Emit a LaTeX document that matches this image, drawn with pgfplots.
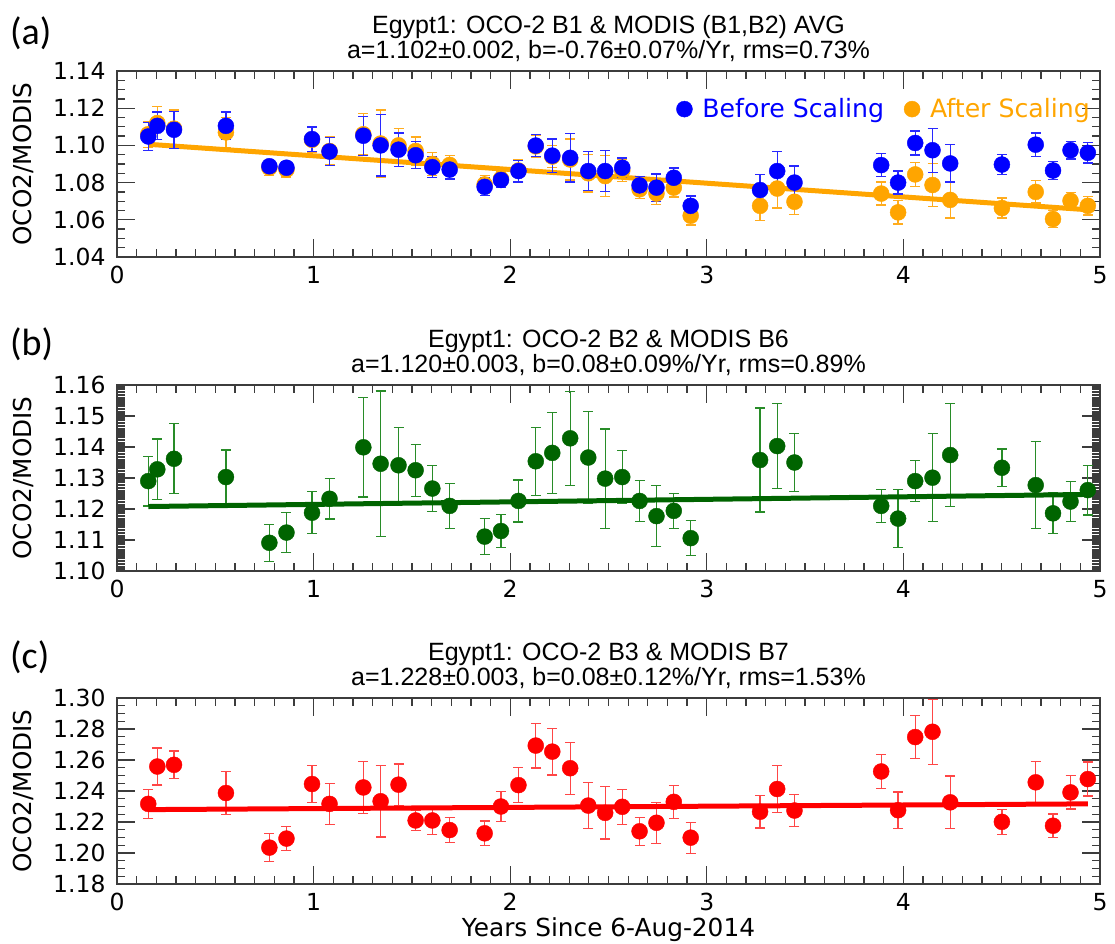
\documentclass[border=0pt]{standalone}
\usepackage{fontspec}
\setmainfont{DejaVu Sans}
\newfontfamily\titlefont{Liberation Sans}
\newfontfamily\panelfont{Carlito}
\usepackage{pgfplots}
\pgfplotsset{compat=1.18}

\definecolor{myblue}{RGB}{0,0,255}
\definecolor{myblueerr}{RGB}{40,40,255}
\definecolor{myorange}{RGB}{255,165,0}
\definecolor{myorangeerr}{RGB}{255,172,30}
\definecolor{mygreen}{RGB}{0,100,0}
\definecolor{mygreenerr}{RGB}{40,140,40}
\definecolor{myred}{RGB}{255,0,0}
\definecolor{myrederr}{RGB}{255,70,70}
\definecolor{axgray}{RGB}{60,60,60}

\pgfplotsset{
  panel/.style={
    scale only axis, width=983pt, height=186pt,
    xmin=0, xmax=5, xtick={0,1,2,3,4,5}, minor x tick num=9,
    tick align=inside, tick pos=both, xticklabel pos=lower, yticklabel pos=left,
    major tick length=18pt, minor tick length=8pt,
    axis line style={axgray, line width=1.3pt},
    every tick/.style={axgray, line width=1.3pt},
    tick label style={font=\fontsize{23.5}{26}\selectfont},
    /pgf/number format/assume math mode=true,
    yticklabel style={/pgf/number format/fixed, /pgf/number format/fixed zerofill, /pgf/number format/precision=2, xshift=-8pt},
    xticklabel style={yshift=-6pt},
    every axis y label/.style={at={(axis description cs:-0.0956,0.5)}, rotate=90, anchor=center, font=\fontsize{24.7}{28}\selectfont},
    every axis x label/.style={at={(axis description cs:0.5,0)}, anchor=center, yshift=-46pt, font=\fontsize{24.8}{28}\selectfont},
    title style={font=\titlefont\fontsize{25}{25}\selectfont, align=center, at={(0.5,1)}, anchor=south, yshift=0pt},
    ylabel={OCO2/MODIS},
  },
  errpts/.style 2 args={only marks, mark=*, mark size=8pt, color=#1,
    mark options={fill=#1, draw=#1},
    error bars/.cd, y dir=both, y explicit,
    error bar style={color=#2, line width=1.3pt},
    error mark options={color=#2, mark size=5pt, line width=1.3pt, rotate=90}},
  fitline/.style={no marks, line width=5pt, color=#1},
}

\begin{document}
\begin{tikzpicture}
\path[use as bounding box] (0,0) rectangle (1115pt,943pt);

% ---------------- panel (a)
\begin{axis}[panel, at={(117pt,686pt)}, anchor=south west,
  ymin=1.04, ymax=1.14, ytick={1.04,1.06,1.08,1.10,1.12,1.14}, minor y tick num=3,
  title={Egypt1: OCO-2 B1 \& MODIS (B1,B2) AVG\\a=1.102±0.002, b=-0.76±0.07\%/Yr, rms=0.73\%},
  reverse legend,
  legend style={at={(axis cs:4.975,1.1195)}, anchor=east, draw=none, fill=none,
    legend columns=2, font=\fontsize{25.2}{28}\selectfont,
    /tikz/every even column/.append style={column sep=18pt}},
  legend cell align=left]
\addplot+[errpts={myorange}{myorangeerr}] table[x=x, y=y, y error=e] {
x y e
0.159 1.1060 0.0070
0.205 1.1120 0.0090
0.290 1.1090 0.0100
0.554 1.1070 0.0080
0.775 1.0880 0.0040
0.862 1.0870 0.0040
0.992 1.1030 0.0065
1.081 1.0970 0.0075
1.253 1.1060 0.0110
1.341 1.1010 0.0180
1.432 1.1000 0.0090
1.519 1.0970 0.0075
1.604 1.0900 0.0060
1.692 1.0895 0.0050
1.870 1.0790 0.0050
1.953 1.0820 0.0040
2.042 1.0865 0.0060
2.130 1.0995 0.0060
2.214 1.0940 0.0060
2.305 1.0924 0.0110
2.397 1.0850 0.0100
2.483 1.0835 0.0110
2.570 1.0865 0.0060
2.658 1.0764 0.0050
2.744 1.0741 0.0060
2.832 1.0773 0.0050
2.918 1.0622 0.0050
3.271 1.0675 0.0080
3.358 1.0768 0.0105
3.446 1.0697 0.0067
3.887 1.0741 0.0062
3.973 1.0640 0.0062
4.060 1.0844 0.0065
4.148 1.0787 0.0114
4.238 1.0707 0.0098
4.501 1.0663 0.0054
4.673 1.0750 0.0060
4.761 1.0604 0.0047
4.850 1.0702 0.0046
4.938 1.0675 0.0050
};
\addlegendentry{\hspace{8pt}\textcolor{myorange}{After Scaling}}
\addplot[fitline=myorange, forget plot] coordinates {(0.159,1.1006) (4.938,1.0654)};
\addplot+[errpts={myblue}{myblueerr}] table[x=x, y=y, y error=e] {
x y e
0.159 1.1048 0.0075
0.205 1.1105 0.0075
0.290 1.1084 0.0100
0.554 1.1105 0.0075
0.775 1.0888 0.0030
0.862 1.0880 0.0030
0.992 1.1034 0.0065
1.081 1.0967 0.0075
1.253 1.1052 0.0105
1.341 1.1000 0.0165
1.432 1.0977 0.0090
1.519 1.0947 0.0073
1.604 1.0883 0.0056
1.692 1.0870 0.0050
1.870 1.0777 0.0047
1.953 1.0814 0.0040
2.042 1.0862 0.0058
2.130 1.0999 0.0060
2.214 1.0945 0.0090
2.305 1.0933 0.0130
2.397 1.0862 0.0105
2.483 1.0862 0.0110
2.570 1.0880 0.0053
2.658 1.0785 0.0048
2.744 1.0773 0.0073
2.832 1.0826 0.0053
2.918 1.0675 0.0053
3.271 1.0760 0.0082
3.358 1.0862 0.0107
3.446 1.0800 0.0089
3.887 1.0894 0.0062
3.973 1.0800 0.0062
4.060 1.1013 0.0065
4.148 1.0974 0.0118
4.238 1.0903 0.0100
4.501 1.0897 0.0053
4.673 1.1004 0.0062
4.761 1.0865 0.0047
4.850 1.0974 0.0047
4.938 1.0960 0.0055
};
\addlegendentry{\hspace{8pt}\textcolor{myblue}{Before Scaling}}
\end{axis}

% ---------------- panel (b)
\begin{axis}[panel, at={(117pt,372pt)}, anchor=south west,
  ymin=1.10, ymax=1.16, ytick={1.10,1.11,1.12,1.13,1.14,1.15,1.16}, minor y tick num=19,
  title={Egypt1: OCO-2 B2 \& MODIS B6\\a=1.120±0.003, b=0.08±0.09\%/Yr, rms=0.89\%}]
\addplot+[errpts={mygreen}{mygreenerr}] table[x=x, y=y, y error=e] {
x y e
0.159 1.1290 0.0080
0.205 1.1328 0.0098
0.290 1.1362 0.0113
0.554 1.1303 0.0087
0.775 1.1091 0.0060
0.862 1.1124 0.0065
0.992 1.1188 0.0068
1.081 1.1233 0.0065
1.253 1.1399 0.0160
1.341 1.1346 0.0235
1.432 1.1341 0.0123
1.519 1.1325 0.0084
1.604 1.1266 0.0074
1.692 1.1210 0.0073
1.870 1.1111 0.0058
1.953 1.1129 0.0054
2.042 1.1226 0.0068
2.130 1.1354 0.0110
2.214 1.1381 0.0130
2.305 1.1428 0.0152
2.397 1.1366 0.0148
2.483 1.1298 0.0160
2.570 1.1303 0.0085
2.658 1.1226 0.0066
2.744 1.1177 0.0098
2.832 1.1194 0.0057
2.918 1.1106 0.0056
3.271 1.1358 0.0168
3.358 1.1403 0.0137
3.446 1.1350 0.0094
3.887 1.1210 0.0054
3.973 1.1169 0.0094
4.060 1.1290 0.0066
4.148 1.1301 0.0142
4.238 1.1374 0.0166
4.501 1.1333 0.0061
4.673 1.1277 0.0140
4.761 1.1186 0.0066
4.850 1.1224 0.0065
4.938 1.1261 0.0080
};
\addplot[fitline=mygreen] coordinates {(0.159,1.1208) (4.938,1.1247)};
\end{axis}

% ---------------- panel (c)
\begin{axis}[panel, at={(117pt,59pt)}, anchor=south west,
  ymin=1.18, ymax=1.30, ytick={1.18,1.20,1.22,1.24,1.26,1.28,1.30}, minor y tick num=3,
  title={Egypt1: OCO-2 B3 \& MODIS B7\\a=1.228±0.003, b=0.08±0.12\%/Yr, rms=1.53\%},
  xlabel={Years Since 6-Aug-2014}]
\addplot+[errpts={myred}{myrederr}] table[x=x, y=y, y error=e] {
x y e
0.159 1.2317 0.0093
0.205 1.2558 0.0120
0.290 1.2569 0.0089
0.554 1.2387 0.0140
0.775 1.2035 0.0090
0.862 1.2093 0.0078
0.992 1.2445 0.0120
1.081 1.2317 0.0133
1.253 1.2423 0.0167
1.341 1.2334 0.0230
1.432 1.2441 0.0133
1.519 1.2210 0.0066
1.604 1.2210 0.0090
1.692 1.2148 0.0080
1.870 1.2127 0.0080
1.953 1.2300 0.0096
2.042 1.2438 0.0113
2.130 1.2693 0.0144
2.214 1.2654 0.0150
2.305 1.2547 0.0168
2.397 1.2306 0.0150
2.483 1.2259 0.0169
2.570 1.2298 0.0113
2.658 1.2140 0.0090
2.744 1.2195 0.0132
2.832 1.2330 0.0106
2.918 1.2099 0.0100
3.271 1.2266 0.0104
3.358 1.2413 0.0150
3.446 1.2274 0.0104
3.887 1.2526 0.0110
3.973 1.2276 0.0117
4.060 1.2748 0.0140
4.148 1.2782 0.0210
4.238 1.2327 0.0169
4.501 1.2201 0.0080
4.673 1.2456 0.0133
4.761 1.2176 0.0075
4.850 1.2391 0.0108
4.938 1.2477 0.0110
};
\addplot[fitline=myred] coordinates {(0.159,1.2280) (4.938,1.2317)};
\end{axis}

\node[font=\panelfont\fontsize{38}{40}\selectfont, anchor=west, inner sep=0pt] at (10pt,910pt) {(a)};
\node[font=\panelfont\fontsize{38}{40}\selectfont, anchor=west, inner sep=0pt] at (10pt,599pt) {(b)};
\node[font=\panelfont\fontsize{38}{40}\selectfont, anchor=west, inner sep=0pt] at (10pt,286pt) {(c)};
\end{tikzpicture}
\end{document}
